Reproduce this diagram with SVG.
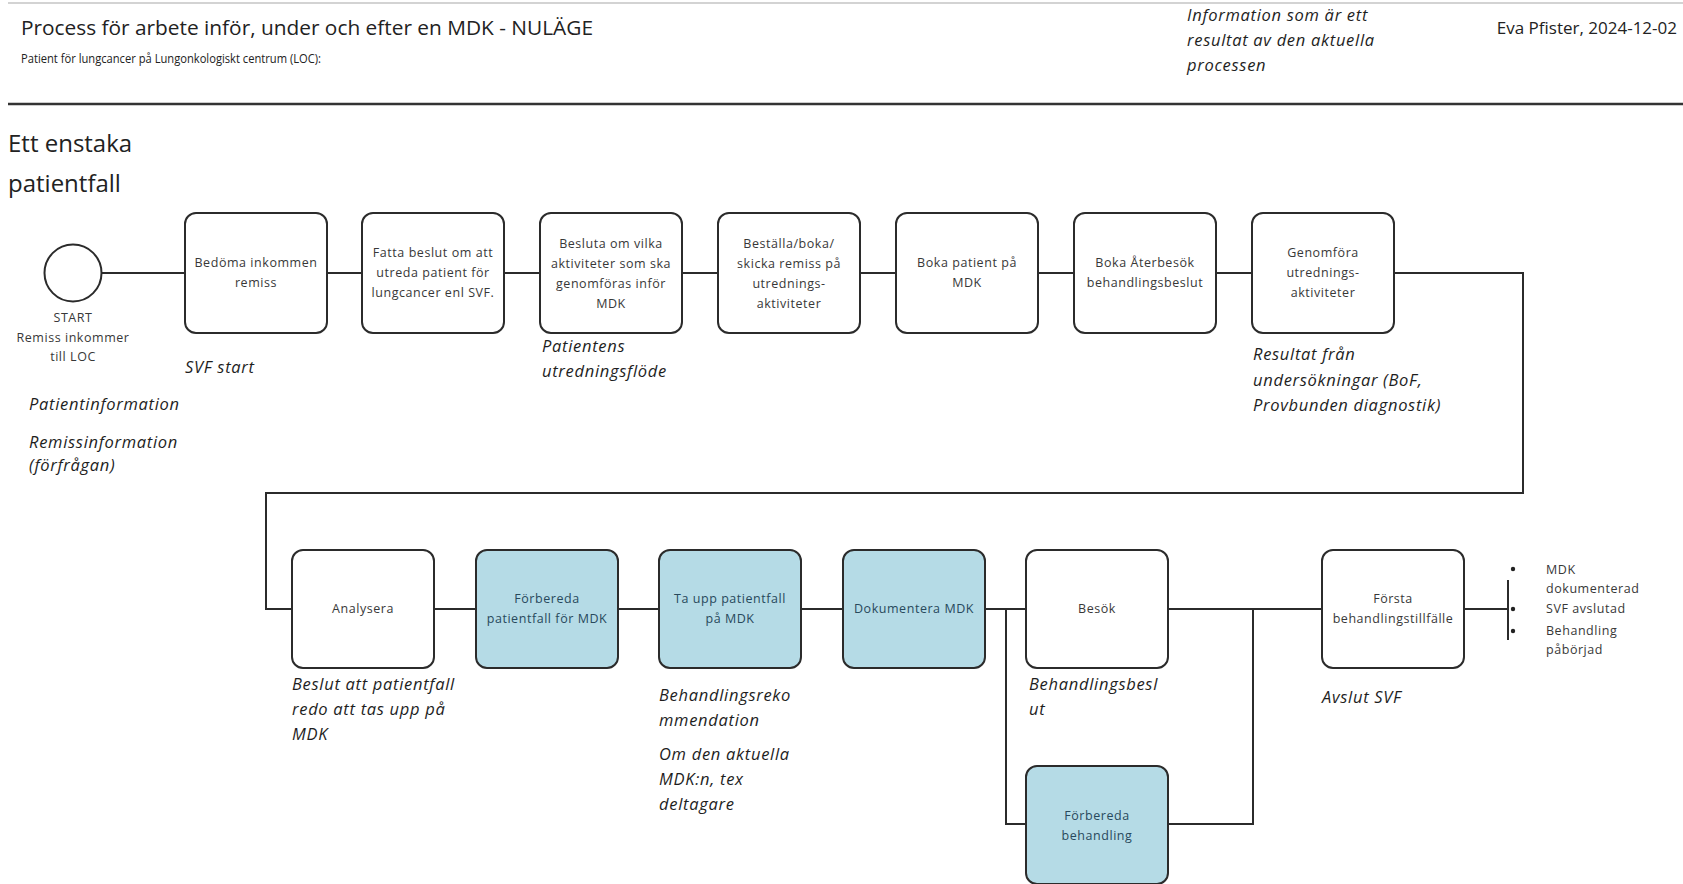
<svg xmlns="http://www.w3.org/2000/svg" width="1683" height="884" viewBox="0 0 1683 884">
  <style>
    .bg { fill: #ffffff; }
    .box { fill: #ffffff; stroke: #2b2b2b; stroke-width: 2; }
    .box.mdk { fill: #b5dbe6; }
    .btxt { font-family: "Open Sans", "Noto Sans", sans-serif; font-size: 12.5px; letter-spacing: 0.55px; fill: #383838; text-anchor: middle; }
    .btxt.mdk { fill: #28495c; }
    .lbl { font-family: "Open Sans", "Noto Sans", sans-serif; font-style: italic; font-size: 16.5px; letter-spacing: 0.7px; fill: #1e1e1e; }
    .conn { fill: none; stroke: #2b2b2b; stroke-width: 2; }
    .head { font-family: "Open Sans", "Noto Sans", sans-serif; fill: #222; }
    .note { font-family: "Open Sans", "Noto Sans", sans-serif; font-size: 12.5px; letter-spacing: 0.55px; fill: #383838; }
  </style>

  <rect class="bg" x="0" y="0" width="1683" height="884"/>

  <!-- header -->
  <g id="header">
    <line x1="8" y1="3" x2="1683" y2="3" stroke="#c4c4c4" stroke-width="1.5"/>
    <text class="head" x="21" y="35" font-size="20" textLength="572" lengthAdjust="spacingAndGlyphs">Process för arbete inför, under och efter en MDK - NULÄGE</text>
    <text class="head" x="21" y="63" font-size="12.5" textLength="300" lengthAdjust="spacingAndGlyphs">Patient för lungcancer på Lungonkologiskt centrum (LOC):</text>
    <text class="lbl" x="1187" y="21" font-size="16" letter-spacing="0.6">Information som är ett</text>
    <text class="lbl" x="1187" y="46" font-size="16" letter-spacing="0.6">resultat av den aktuella</text>
    <text class="lbl" x="1187" y="71" font-size="16" letter-spacing="0.6">processen</text>
    <text class="head" x="1677" y="34" font-size="17" text-anchor="end">Eva Pfister, 2024-12-02</text>
    <line x1="8" y1="104" x2="1683" y2="104" stroke="#333" stroke-width="2.5"/>
    <text class="head" x="8" y="152" font-size="24">Ett enstaka</text>
    <text class="head" x="8" y="192" font-size="24">patientfall</text>
  </g>

  <!-- connectors -->
  <g id="connectors">
    <line class="conn" x1="102" y1="273" x2="185" y2="273"/>
    <line class="conn" x1="327" y1="273" x2="362" y2="273"/>
    <line class="conn" x1="504" y1="273" x2="540" y2="273"/>
    <line class="conn" x1="682" y1="273" x2="718" y2="273"/>
    <line class="conn" x1="860" y1="273" x2="896" y2="273"/>
    <line class="conn" x1="1038" y1="273" x2="1074" y2="273"/>
    <line class="conn" x1="1216" y1="273" x2="1252" y2="273"/>
    <polyline class="conn" points="1394,273 1523,273 1523,493 266,493 266,609 292,609"/>
    <line class="conn" x1="434" y1="609" x2="476" y2="609"/>
    <line class="conn" x1="618" y1="609" x2="659" y2="609"/>
    <line class="conn" x1="801" y1="609" x2="843" y2="609"/>
    <line class="conn" x1="985" y1="609" x2="1026" y2="609"/>
    <polyline class="conn" points="1006,609 1006,824 1026,824"/>
    <line class="conn" x1="1168" y1="609" x2="1322" y2="609"/>
    <polyline class="conn" points="1168,824 1253,824 1253,609"/>
    <line class="conn" x1="1464" y1="609" x2="1508" y2="609"/>
    <line class="conn" x1="1508" y1="580" x2="1508" y2="640" stroke-width="2.5"/>
  </g>

  <!-- start event -->
  <g id="start">
    <circle cx="73" cy="273" r="28.5" fill="#fff" stroke="#2b2b2b" stroke-width="2"/>
    <text class="btxt" x="73" y="322">START</text>
    <text class="btxt" x="73" y="342">Remiss inkommer</text>
    <text class="btxt" x="73" y="361">till LOC</text>
  </g>

  <!-- row 1 -->
  <g id="bedoma">
    <rect class="box" x="185" y="213" width="142" height="120" rx="11"/>
    <text class="btxt" x="256" y="267">Bedöma inkommen</text>
    <text class="btxt" x="256" y="287">remiss</text>
  </g>
  <g id="fatta-beslut">
    <rect class="box" x="362" y="213" width="142" height="120" rx="11"/>
    <text class="btxt" x="433" y="257">Fatta beslut om att</text>
    <text class="btxt" x="433" y="277">utreda patient för</text>
    <text class="btxt" x="433" y="297">lungcancer enl SVF.</text>
  </g>
  <g id="besluta-aktiviteter">
    <rect class="box" x="540" y="213" width="142" height="120" rx="11"/>
    <text class="btxt" x="611" y="248">Besluta om vilka</text>
    <text class="btxt" x="611" y="268">aktiviteter som ska</text>
    <text class="btxt" x="611" y="288">genomföras inför</text>
    <text class="btxt" x="611" y="308">MDK</text>
  </g>
  <g id="bestalla-remiss">
    <rect class="box" x="718" y="213" width="142" height="120" rx="11"/>
    <text class="btxt" x="789" y="248">Beställa/boka/</text>
    <text class="btxt" x="789" y="268">skicka remiss på</text>
    <text class="btxt" x="789" y="288">utrednings-</text>
    <text class="btxt" x="789" y="308">aktiviteter</text>
  </g>
  <g id="boka-mdk">
    <rect class="box" x="896" y="213" width="142" height="120" rx="11"/>
    <text class="btxt" x="967" y="267">Boka patient på</text>
    <text class="btxt" x="967" y="287">MDK</text>
  </g>
  <g id="boka-aterbesok">
    <rect class="box" x="1074" y="213" width="142" height="120" rx="11"/>
    <text class="btxt" x="1145" y="267">Boka Återbesök</text>
    <text class="btxt" x="1145" y="287">behandlingsbeslut</text>
  </g>
  <g id="genomfora">
    <rect class="box" x="1252" y="213" width="142" height="120" rx="11"/>
    <text class="btxt" x="1323" y="257">Genomföra</text>
    <text class="btxt" x="1323" y="277">utrednings-</text>
    <text class="btxt" x="1323" y="297">aktiviteter</text>
  </g>

  <!-- row 2 -->
  <g id="analysera">
    <rect class="box" x="292" y="550" width="142" height="118" rx="11"/>
    <text class="btxt" x="363" y="613">Analysera</text>
  </g>
  <g id="forbereda-mdk">
    <rect class="box mdk" x="476" y="550" width="142" height="118" rx="11"/>
    <text class="btxt mdk" x="547" y="603">Förbereda</text>
    <text class="btxt mdk" x="547" y="623">patientfall för MDK</text>
  </g>
  <g id="ta-upp">
    <rect class="box mdk" x="659" y="550" width="142" height="118" rx="11"/>
    <text class="btxt mdk" x="730" y="603">Ta upp patientfall</text>
    <text class="btxt mdk" x="730" y="623">på MDK</text>
  </g>
  <g id="dokumentera">
    <rect class="box mdk" x="843" y="550" width="142" height="118" rx="11"/>
    <text class="btxt mdk" x="914" y="613">Dokumentera MDK</text>
  </g>
  <g id="besok">
    <rect class="box" x="1026" y="550" width="142" height="118" rx="11"/>
    <text class="btxt" x="1097" y="613">Besök</text>
  </g>
  <g id="forbereda-behandling">
    <rect class="box mdk" x="1026" y="766" width="142" height="118" rx="11"/>
    <text class="btxt mdk" x="1097" y="820">Förbereda</text>
    <text class="btxt mdk" x="1097" y="840">behandling</text>
  </g>
  <g id="forsta-behandling">
    <rect class="box" x="1322" y="550" width="142" height="118" rx="11"/>
    <text class="btxt" x="1393" y="603">Första</text>
    <text class="btxt" x="1393" y="623">behandlingstillfälle</text>
  </g>

  <!-- end notes -->
  <g id="end-notes">
    <circle cx="1513" cy="569" r="2.2" fill="#222"/>
    <circle cx="1513" cy="609" r="2.2" fill="#222"/>
    <circle cx="1513" cy="631" r="2.2" fill="#222"/>
    <text class="note" x="1546" y="574">MDK</text>
    <text class="note" x="1546" y="593">dokumenterad</text>
    <text class="note" x="1546" y="613">SVF avslutad</text>
    <text class="note" x="1546" y="635">Behandling</text>
    <text class="note" x="1546" y="654">påbörjad</text>
  </g>

  <!-- result information -->
  <g id="results">
    <text class="lbl" x="29" y="410">Patientinformation</text>
    <text class="lbl" x="29" y="448">Remissinformation</text>
    <text class="lbl" x="29" y="471">(förfrågan)</text>
    <text class="lbl" x="185" y="373">SVF start</text>
    <text class="lbl" x="542" y="352">Patientens</text>
    <text class="lbl" x="542" y="377">utredningsflöde</text>
    <text class="lbl" x="1253" y="360">Resultat från</text>
    <text class="lbl" x="1253" y="386">undersökningar (BoF,</text>
    <text class="lbl" x="1253" y="411">Provbunden diagnostik)</text>
    <text class="lbl" x="292" y="690">Beslut att patientfall</text>
    <text class="lbl" x="292" y="715">redo att tas upp på</text>
    <text class="lbl" x="292" y="740">MDK</text>
    <text class="lbl" x="659" y="701">Behandlingsreko</text>
    <text class="lbl" x="659" y="726">mmendation</text>
    <text class="lbl" x="659" y="760">Om den aktuella</text>
    <text class="lbl" x="659" y="785">MDK:n, tex</text>
    <text class="lbl" x="659" y="810">deltagare</text>
    <text class="lbl" x="1029" y="690">Behandlingsbesl</text>
    <text class="lbl" x="1029" y="715">ut</text>
    <text class="lbl" x="1322" y="703">Avslut SVF</text>
  </g>
</svg>
